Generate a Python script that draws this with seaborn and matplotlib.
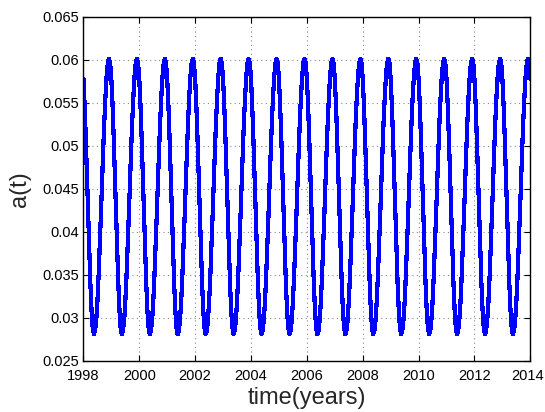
import numpy as np
import pandas as pd
import matplotlib
matplotlib.use("Agg")
import matplotlib.pyplot as plt
import matplotlib.transforms as mtransforms
import seaborn as sns

# One year's profile of a(t), half-monthly samples (repeats every year)
year_profile = [0.0578, 0.0549, 0.0511, 0.0468, 0.0423, 0.0379, 0.0340, 0.0309,
                0.0289, 0.0281, 0.0285, 0.0297, 0.0318, 0.0347, 0.0381, 0.0418,
                0.0457, 0.0494, 0.0529, 0.0558, 0.0581, 0.0596, 0.0601, 0.0596]
start_year = 1998
n_years = 16
samples_per_year = 24
x_ticks = [1998, 2000, 2002, 2004, 2006, 2008, 2010, 2012, 2014]
y_ticks = [0.025, 0.03, 0.035, 0.04, 0.045, 0.05, 0.055, 0.06, 0.065]
y_ticklabels = ["0.025", "0.03", "0.035", "0.04", "0.045", "0.05", "0.055", "0.06", "0.065"]

values = list(np.tile(year_profile, n_years)) + [year_profile[0]]
t = start_year + np.arange(len(values)) / samples_per_year
df = pd.DataFrame({"time": t, "a": values})

sns.set_style("ticks")
plt.rcParams["font.family"] = ["Liberation Sans", "DejaVu Sans"]

fig = plt.figure(figsize=(5.45, 4.12), dpi=100)
ax = fig.add_axes([0.153, 0.1238, 0.820, 0.836])

sns.lineplot(data=df, x="time", y="a", ax=ax, color=(0, 0, 1), linewidth=2.3,
             estimator=None, sort=False, antialiased=False)

ax.set_xlim(1998, 2014)
ax.set_ylim(0.025, 0.065)
ax.set_xticks(x_ticks)
ax.set_xticklabels([str(v) for v in x_ticks])
ax.set_yticks(y_ticks)
ax.set_yticklabels(y_ticklabels)

ax.grid(True, linestyle=(0, (1, 3)), color="#888888", linewidth=0.8)
ax.tick_params(direction="in", length=4, width=0.8, top=True, right=True,
               labelsize=10.5, colors="black")
ax.tick_params(axis="x", pad=6)
ax.tick_params(axis="y", pad=3)
for s in ax.spines.values():
    s.set_visible(True)
    s.set_linewidth(1.0)
    s.set_color("black")

# keep the last x tick label inside the canvas
last = ax.get_xticklabels()[-1]
last.set_transform(last.get_transform() +
                   mtransforms.ScaledTranslation(-3 / 100, 0, fig.dpi_scale_trans))

ax.set_xlabel("time(years)", fontsize=17, labelpad=3)
ax.set_ylabel("a(t)", fontsize=17, labelpad=8)

fig.savefig("out.png", dpi=100)
